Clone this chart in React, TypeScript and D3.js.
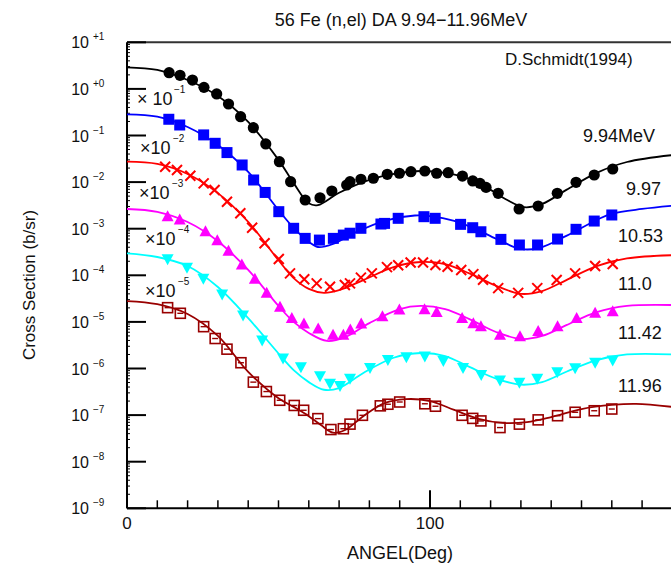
import React from "react";
import * as d3 from "d3";

// ---------- data (raw cross sections, b/sr; angle in degrees) ----------
const energies = ["9.94MeV", "9.97", "10.53", "11.0", "11.42", "11.96"];
const multipliers = [1, 1e-1, 1e-2, 1e-3, 1e-4, 1e-5];
const multExponents = ["−1", "−2", "−3", "−4", "−5"];
const yTickExponents = ["+1", "+0", "−1", "−2", "−3", "−4", "−5", "−6", "−7", "−8", "−9"];
const xTickLabels = [0, 100];

const exp994: [number, number][] = [[13.9,2.23],[17.5,1.96],[21.6,1.55],[25.4,1.08],[29.6,0.78],[33.5,0.474],[37.5,0.253],[41.7,0.147],[45.8,0.0658],[50.3,0.0274],[54.0,0.0102],[58.8,0.00413],[63.7,0.00462],[67.6,0.00644],[72.5,0.00867],[73.6,0.0102],[77.2,0.0115],[81.3,0.0121],[85.9,0.0147],[89.9,0.0155],[93.7,0.0167],[98.3,0.0173],[102.2,0.0155],[106.0,0.0159],[110.7,0.0135],[114.1,0.0106],[116.5,0.0094],[118.5,0.0077],[122.5,0.00575],[129.4,0.00265],[135.7,0.00307],[142.0,0.00575],[148.2,0.0099],[154.2,0.0142],[160.3,0.0191]];
const calc994: [number, number][] = [[0,2.91],[10,2.55],[20,1.55],[30,0.70],[40,0.195],[50,0.030],[55,0.0095],[60,0.0035],[63,0.0032],[70,0.0059],[80,0.0112],[90,0.0158],[97,0.0173],[105,0.0158],[112,0.0123],[120,0.0068],[125,0.0043],[131,0.0029],[137,0.0034],[145,0.0068],[155,0.0158],[165,0.027],[180,0.038]];

const exp997: [number, number][] = [[13.8,2.23],[17.4,1.68],[25.3,1.03],[29.1,0.68],[33.0,0.43],[38.0,0.233],[41.8,0.111],[45.6,0.060],[50.1,0.0232],[55.0,0.0102],[58.8,0.0062],[63.5,0.0057],[68.1,0.0062],[71.4,0.0073],[73.6,0.0080],[77.2,0.0102],[83.8,0.0126],[85.0,0.0130],[89.5,0.0167],[98.0,0.0181],[101.7,0.0167],[110.1,0.0124],[114.1,0.0105],[116.8,0.0086],[123.4,0.0059],[129.5,0.00447],[135.5,0.00447],[142.1,0.0060],[148.2,0.0097],[154.2,0.0146],[160.0,0.0197]];
const calc997: [number, number][] = [[0,2.85],[10,2.54],[20,1.52],[30,0.625],[40,0.165],[50,0.0252],[55,0.0104],[60,0.0052],[63,0.00405],[68,0.0047],[75,0.0081],[85,0.0148],[95,0.0192],[100,0.0186],[108,0.0148],[115,0.0099],[122,0.0060],[130,0.00367],[136,0.00385],[145,0.0070],[155,0.0154],[160,0.021],[170,0.0265],[180,0.031]];

const exp1053: [number, number][] = [[12.6,2.14],[16.5,1.82],[20.9,1.37],[25.3,0.94],[28.9,0.676],[33.0,0.379],[37.4,0.214],[41.3,0.105],[45.4,0.0486],[50.1,0.0224],[53.8,0.011],[58.5,0.0082],[62.6,0.0067],[67.0,0.0057],[71.9,0.0062],[73.6,0.0067],[77.2,0.0089],[80.8,0.011],[85.8,0.015],[89.5,0.0164],[93.6,0.0188],[97.7,0.0188],[101.8,0.0166],[105.8,0.0153],[110.3,0.013],[114.3,0.0106],[117.5,0.0080],[122.5,0.0053],[129.1,0.0042],[135.4,0.0053],[141.8,0.0079],[147.9,0.011],[154.5,0.0158],[160.3,0.0175]];
const calc1053: [number, number][] = [[0,2.74],[10,2.45],[20,1.49],[30,0.58],[40,0.14],[50,0.021],[55,0.0087],[60,0.0051],[65,0.0042],[70,0.0048],[78,0.0079],[88,0.015],[97,0.0193],[105,0.0174],[113,0.011],[122,0.0059],[130,0.0040],[137,0.0046],[145,0.0079],[155,0.0158],[165,0.023],[180,0.027]];

const exp1100: [number, number][] = [[13.4,1.81],[17.4,1.54],[25.9,0.86],[29.8,0.55],[33.5,0.33],[37.9,0.166],[42.2,0.082],[46.1,0.041],[50.5,0.0206],[54.4,0.0119],[58.4,0.0090],[63.1,0.0070],[68.0,0.0052],[71.4,0.0052],[73.7,0.0067],[77.3,0.0090],[84.3,0.0129],[89.9,0.018],[98.2,0.0183],[102.2,0.0159],[110.6,0.0119],[114.3,0.0091],[116.8,0.0079],[123.1,0.0052],[129.7,0.0048],[135.7,0.0062],[142.1,0.0079],[148.4,0.0119],[154.5,0.0153],[160.3,0.0166]];
const calc1100: [number, number][] = [[0,2.65],[10,2.3],[20,1.39],[30,0.54],[40,0.13],[50,0.022],[55,0.010],[60,0.0058],[66,0.0039],[72,0.0047],[80,0.0094],[90,0.0188],[97,0.022],[105,0.0188],[113,0.0115],[122,0.0060],[130,0.0043],[137,0.0050],[145,0.0085],[155,0.0162],[165,0.022],[180,0.023]];

const exp1142: [number, number][] = [[13.4,2.27],[19.8,1.49],[25.2,0.86],[31.4,0.397],[38.3,0.14],[44.6,0.041],[51.5,0.0168],[57.4,0.0109],[63.7,0.0070],[67.0,0.0048],[70.3,0.0043],[73.6,0.0062],[80.2,0.0105],[86.1,0.0156],[92.2,0.0179],[98.3,0.0185],[104.4,0.0149],[110.9,0.0105],[116.9,0.0074],[123.1,0.0057],[129.5,0.0051],[135.4,0.0062],[142.0,0.0085],[147.9,0.0104],[154.5,0.0136],[160.3,0.0152]];
const calc1142: [number, number][] = [[0,2.96],[10,2.47],[20,1.58],[30,0.56],[40,0.12],[50,0.021],[55,0.0092],[60,0.0051],[65,0.0035],[70,0.0038],[78,0.0080],[88,0.017],[97,0.0215],[105,0.0185],[113,0.0108],[122,0.0060],[130,0.0045],[137,0.0051],[145,0.0085],[155,0.0152],[165,0.020],[180,0.020]];

const exp1196: [number, number][] = [[13.4,2.02],[17.6,1.53],[25.3,0.79],[29.1,0.44],[33.0,0.26],[37.6,0.133],[41.7,0.051],[46.0,0.032],[50.4,0.0208],[55.2,0.0161],[58.3,0.0127],[63.0,0.0084],[67.3,0.0049],[71.4,0.0051],[73.6,0.0064],[77.7,0.0099],[83.6,0.0158],[86.1,0.0171],[90.0,0.0191],[98.3,0.0175],[101.8,0.0155],[110.6,0.0099],[114.1,0.0085],[116.8,0.0075],[123.1,0.0054],[129.5,0.0064],[135.7,0.0079],[142.1,0.0097],[147.9,0.0115],[154.2,0.0124],[160.0,0.0135]];
const calc1196: [number, number][] = [[0,2.8],[10,2.4],[20,1.48],[30,0.50],[40,0.085],[50,0.023],[55,0.015],[60,0.0095],[64,0.0061],[68,0.0042],[72,0.0048],[78,0.0095],[85,0.018],[92,0.022],[100,0.020],[108,0.0129],[116,0.0083],[124,0.0068],[132,0.0071],[140,0.0091],[150,0.0135],[160,0.0165],[168,0.0174],[180,0.015]];

// ---------- styling / layout ----------
const FONT = "'Liberation Sans', Arial, Helvetica, sans-serif";
const W = 671, H = 566;
const X0 = 127, X1 = 672.4, Y0 = 508.3, Y1 = 42.3;

const seriesStyle = [
  { color: "#000000", marker: "circle" },
  { color: "#0000ff", marker: "square" },
  { color: "#ff0000", marker: "cross" },
  { color: "#ff00ff", marker: "up" },
  { color: "#00ffff", marker: "down" },
  { color: "#990000", marker: "open" },
];
const energyLabelPos = [[583, 142], [626, 195], [618, 242], [618, 290], [618, 339], [618, 392]];
const multLabelPos = [[137, 105], [140, 154], [139, 199], [145, 245], [145, 297]];

const expSets = [exp994, exp997, exp1053, exp1100, exp1142, exp1196];
const calcSets = [calc994, calc997, calc1053, calc1100, calc1142, calc1196];

function Marker({ kind, color, cx, cy }: { kind: string; color: string; cx: number; cy: number }) {
  const s = 5.5;
  switch (kind) {
    case "circle":
      return <circle cx={cx} cy={cy} r={5.6} fill={color} />;
    case "square":
      return <rect x={cx - s} y={cy - s} width={2 * s} height={2 * s} fill={color} />;
    case "cross":
      return (
        <path d={`M${cx - 5},${cy - 5}L${cx + 5},${cy + 5}M${cx - 5},${cy + 5}L${cx + 5},${cy - 5}`} stroke={color} strokeWidth={2} fill="none" />
      );
    case "up":
      return <path d={`M${cx},${cy - 6.5}L${cx + 6},${cy + 4.5}L${cx - 6},${cy + 4.5}Z`} fill={color} />;
    case "down":
      return <path d={`M${cx},${cy + 6.5}L${cx + 6},${cy - 4.5}L${cx - 6},${cy - 4.5}Z`} fill={color} />;
    default:
      return (
        <g stroke={color} fill="none" strokeWidth={1.6}>
          <rect x={cx - 5} y={cy - 5} width={10} height={10} />
          <line x1={cx - 3} x2={cx + 3} y1={cy} y2={cy} strokeWidth={1.4} />
        </g>
      );
  }
}

export default function App() {
  const x = d3.scaleLinear().domain([0, 180]).range([X0, X1]);
  const y = d3.scaleLog().domain([1e-9, 10]).range([Y0, Y1]);

  const yDecades = d3.range(1, -10, -1);
  const minorY: number[] = [];
  for (let e = -9; e < 1; e++) for (let k = 2; k <= 9; k++) minorY.push(k * Math.pow(10, e));
  const minorX = d3.range(10, 180, 10).filter((v) => v !== 100);

  return (
    <svg width={W} height={H} style={{ position: "absolute", left: 0, top: 0, background: "#fff" }} fontFamily={FONT}>
      <defs>
        <clipPath id="plot">
          <rect x={X0} y={Y1} width={X1 - X0} height={Y0 - Y1} />
        </clipPath>
      </defs>
      <rect x={0} y={0} width={W} height={H} fill="#fff" />

      {/* title */}
      <text x={401} y={26} fontSize={18} textAnchor="middle" fill="#111">56 Fe (n,el) DA 9.94−11.96MeV</text>
      <text x={505} y={65} fontSize={17} fill="#111">D.Schmidt(1994)</text>

      {/* frame */}
      <line x1={X0} x2={X1} y1={Y1} y2={Y1} stroke="#333" strokeWidth={2} />
      <line x1={X1} x2={X1} y1={Y1} y2={Y0} stroke="#333" strokeWidth={2} />
      <line x1={X0} x2={X0} y1={Y1} y2={Y0} stroke="#000" strokeWidth={2} />
      <line x1={X0} x2={X1} y1={Y0} y2={Y0} stroke="#000" strokeWidth={2} />

      {/* y ticks */}
      {yDecades.map((e) => (
        <line key={"yt" + e} x1={X0} x2={X0 + 19} y1={y(Math.pow(10, e))} y2={y(Math.pow(10, e))} stroke="#000" strokeWidth={2} />
      ))}
      {minorY.map((v, i) => (
        <line key={"ym" + i} x1={X0} x2={X0 + 3} y1={y(v)} y2={y(v)} stroke="#000" strokeWidth={1} />
      ))}
      {yDecades.map((e, i) => (
        <g key={"yl" + e} fill="#111">
          <text x={89} y={y(Math.pow(10, e)) + 6} fontSize={16} textAnchor="end">10</text>
          <text x={93} y={y(Math.pow(10, e)) - 2} fontSize={10}>{yTickExponents[i]}</text>
        </g>
      ))}

      {/* x ticks */}
      {minorX.map((v) => (
        <line key={"xm" + v} x1={x(v)} x2={x(v)} y1={Y0} y2={Y0 - 8} stroke="#000" strokeWidth={1.5} />
      ))}
      {xTickLabels.map((v) => (
        <g key={"xt" + v}>
          <line x1={x(v)} x2={x(v)} y1={Y0} y2={Y0 - 18} stroke="#000" strokeWidth={2} />
          <text x={x(v)} y={529} fontSize={17} textAnchor="middle" fill="#111">{v}</text>
        </g>
      ))}

      {/* axis titles */}
      <text x={400} y={559} fontSize={18} textAnchor="middle" fill="#111">ANGEL(Deg)</text>
      <text transform={`translate(35,285) rotate(-90)`} fontSize={17} textAnchor="middle" fill="#111">Cross Section (b/sr)</text>

      {/* curves */}
      <g clipPath="url(#plot)">
        {calcSets.map((c, i) => {
          const m = multipliers[i];
          const line = d3
            .line<[number, number]>()
            .x((d) => x(d[0]))
            .y((d) => y(d[1] * m))
            .curve(d3.curveCatmullRom.alpha(0.5));
          return <path key={"c" + i} d={line(c) || ""} fill="none" stroke={seriesStyle[i].color} strokeWidth={1.8} />;
        })}
      </g>

      {/* experimental points */}
      {expSets.map((pts, i) => (
        <g key={"p" + i}>
          {pts.map((d, j) => (
            <Marker key={j} kind={seriesStyle[i].marker} color={seriesStyle[i].color} cx={x(d[0])} cy={y(d[1] * multipliers[i])} />
          ))}
        </g>
      ))}

      {/* multiplier labels */}
      {multExponents.map((e, i) => (
        <g key={"ml" + i} fill="#111">
          <text x={multLabelPos[i][0]} y={multLabelPos[i][1]} fontSize={18}>{i === 0 ? "× 10" : "×10"}</text>
          <text x={multLabelPos[i][0] + (i === 0 ? 37 : 33)} y={multLabelPos[i][1] - 12} fontSize={10}>{e}</text>
        </g>
      ))}

      {/* energy labels */}
      {energies.map((e, i) => (
        <text key={"el" + i} x={energyLabelPos[i][0]} y={energyLabelPos[i][1]} fontSize={18} fill="#111">{e}</text>
      ))}
    </svg>
  );
}
